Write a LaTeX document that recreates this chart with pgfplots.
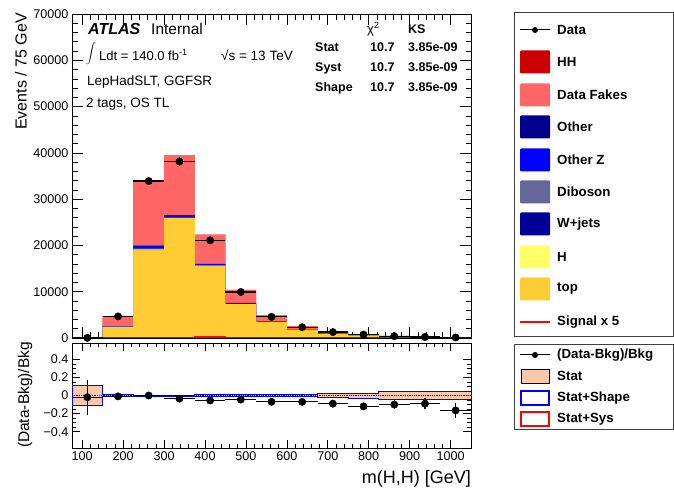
\documentclass[border=0pt]{standalone}
\usepackage{pgfplots}
\pgfplotsset{compat=1.18}
\usepackage{pgfplotstable}
\usepackage{fontspec}
\setmainfont{Liberation Sans}
\definecolor{ctop}{RGB}{255,204,51}
\definecolor{cH}{RGB}{255,255,102}
\definecolor{cW}{RGB}{0,0,153}
\definecolor{cVV}{RGB}{102,102,153}
\definecolor{cZ}{RGB}{0,0,255}
\definecolor{cO}{RGB}{0,0,140}
\definecolor{cF}{RGB}{255,102,102}
\definecolor{cHH}{RGB}{204,0,0}
\definecolor{cstat}{RGB}{250,200,170}
\definecolor{csig}{RGB}{255,0,0}
\definecolor{cblue}{RGB}{0,0,255}
\newcommand\fs[1]{\fontsize{#1}{#1}\selectfont}

\pgfplotstableread{
x    top    H   W   VV  Z    O   F     HH  sig
75   15     0   0   0   0    0   13    0   40
150  2400   10  20  10  80   10  2180  3   40
225  19100  30  150 60  550  60  13950 10  40
300  25900  40  120 50  400  50  12940 15  60
375  15600  25  80  30  250  30  6285  20  220
450  7300   12  40  15  180  20  2830  10  40
525  3500   6   20  8   80   10  1276  5   30
600  1700   3   10  5   45   7   730   3   30
675  900    2   6   3   25   4   460   2   20
750  500    1   4   2   15   3   300   1   20
825  250    1   2   1   8    2   178   1   20
900  130    0   1   1   5    1   100   1   20
975  70     0   1   0   3    0   60    0   20
1050 70     0   1   0   3    0   60    0   20
}\stack

\pgfplotstableread{
x      y      ex    ey
112.5  27     37.5  5
187.5  4670   37.5  68
262.5  33900  37.5  184
337.5  38130  37.5  195
412.5  21090  37.5  145
487.5  9940   37.5  100
562.5  4560   37.5  68
637.5  2330   37.5  48
712.5  1275   37.5  36
787.5  727    37.5  27
862.5  399    37.5  20
937.5  217    37.5  15
1012.5 112    37.5  11
}\data

\pgfplotstableread{
x      r       ex    ey
112.5  -0.02   37.5  0.19
187.5  -0.01   37.5  0.015
262.5  0.0     37.5  0.006
337.5  -0.035  37.5  0.005
412.5  -0.055  37.5  0.007
487.5  -0.045  37.5  0.01
562.5  -0.07   37.5  0.014
637.5  -0.07   37.5  0.02
712.5  -0.09   37.5  0.027
787.5  -0.12   37.5  0.035
862.5  -0.10   37.5  0.045
937.5  -0.09   37.5  0.06
1012.5 -0.165  37.5  0.08
}\ratio

\pgfplotstableread{
x     e
75    0.11
150   0.012
225   0.006
300   0.006
375   0.007
450   0.009
525   0.01
600   0.012
675   0.02
750   0.028
825   0.04
900   0.047
975   0.047
1050  0.047
}\band

\pgfplotsset{
  hist/.style={ybar interval, bar shift=0pt, draw=none, fill=#1},
  atlas/.style={
    scale only axis, tick align=inside,
    axis line style={line width=0.8pt},
    every tick/.style={black, line width=0.6pt},
    tick label style={font=\fs{12.6}},
    /pgf/number format/assume math mode=true,
    xmin=75, xmax=1050,
    xtick={100,200,...,1000}, minor x tick num=4,
  },
}

\begin{document}
\begin{tikzpicture}
\path[use as bounding box] (0pt,0pt) rectangle (674pt,487pt);

% ---------------- main panel
\begin{axis}[atlas,
  at={(72pt,149pt)}, anchor=south west,
  width=399pt, height=324pt,
  ymin=0, ymax=70000,
  ytick={0,10000,...,70000}, minor y tick num=4,
  xticklabels={},
  major tick length=11pt, minor tick length=5.5pt,
  scaled y ticks=false,
  yticklabel style={/pgf/number format/.cd, fixed, 1000 sep={}},
]
\addplot[hist=cHH] table[x=x, y expr=\thisrow{top}+\thisrow{H}+\thisrow{W}+\thisrow{VV}+\thisrow{Z}+\thisrow{O}+\thisrow{F}+\thisrow{HH}] {\stack};
\addplot[hist=cF] table[x=x, y expr=\thisrow{top}+\thisrow{H}+\thisrow{W}+\thisrow{VV}+\thisrow{Z}+\thisrow{O}+\thisrow{F}] {\stack};
\addplot[hist=cO] table[x=x, y expr=\thisrow{top}+\thisrow{H}+\thisrow{W}+\thisrow{VV}+\thisrow{Z}+\thisrow{O}] {\stack};
\addplot[hist=cZ] table[x=x, y expr=\thisrow{top}+\thisrow{H}+\thisrow{W}+\thisrow{VV}+\thisrow{Z}] {\stack};
\addplot[hist=cVV] table[x=x, y expr=\thisrow{top}+\thisrow{H}+\thisrow{W}+\thisrow{VV}] {\stack};
\addplot[hist=cW] table[x=x, y expr=\thisrow{top}+\thisrow{H}+\thisrow{W}] {\stack};
\addplot[hist=cH] table[x=x, y expr=\thisrow{top}+\thisrow{H}] {\stack};
\addplot[hist=ctop] table[x=x, y=top] {\stack};
\addplot[csig, line width=1.2pt, const plot mark left, mark=none] table[x=x, y=sig] {\stack};
\addplot[only marks, mark=*, mark size=3.7pt, black,
  error bars/.cd, x dir=both, x explicit, y dir=both, y explicit,
  error mark=none, error bar style={line width=1.2pt, black}]
  table[x=x, y=y, x error=ex, y error=ey] {\data};
\end{axis}

% ---------------- ratio panel
\begin{axis}[atlas,
  at={(72pt,39pt)}, anchor=south west,
  width=399pt, height=105pt,
  ymin=-0.58, ymax=0.58,
  ytick={-0.4,-0.2,0,0.2,0.4}, yticklabels={−0.4,−0.2,0,0.2,0.4},
  minor y tick num=3,
  major tick length=8pt, minor tick length=4pt,
  xticklabels={100,200,300,400,500,600,700,800,900,1000},
]
\addplot[hist=cstat] table[x=x, y=e] {\band};
\addplot[hist=cstat] table[x=x, y expr=-\thisrow{e}] {\band};
\addplot[cblue, line width=0.9pt, const plot mark left, mark=none] table[x=x, y=e] {\band};
\addplot[cblue, line width=0.9pt, const plot mark left, mark=none] table[x=x, y expr=-\thisrow{e}] {\band};
\addplot[cblue, line width=0.9pt, mark=none] coordinates {(75,-0.11) (75,0.11)};
\addplot[black, densely dotted, line width=0.8pt, mark=none] coordinates {(75,0) (1050,0)};
\addplot[only marks, mark=*, mark size=3.7pt, black,
  error bars/.cd, x dir=both, x explicit, y dir=both, y explicit,
  error mark=none, error bar style={line width=1.2pt, black}]
  table[x=x, y=r, x error=ex, y error=ey] {\ratio};
\end{axis}

% ---------------- axis titles
\node[rotate=90, anchor=east, inner sep=0pt, font=\fs{16}] at (21pt,474pt) {Events / 75 GeV};
\node[rotate=90, anchor=center, inner sep=0pt, font=\fs{15.5}] at (25pt,92pt) {(Data-Bkg)/Bkg};
\node[anchor=base east, inner sep=0pt, font=\fs{18}] at (471pt,4pt) {m(H,H) [GeV]};

% ---------------- ATLAS labels
\node[anchor=base west, inner sep=0pt, font=\fs{16}\bfseries\itshape] at (88pt,452.5pt) {ATLAS};
\node[anchor=base west, inner sep=0pt, font=\fs{15.5}] at (151pt,452.5pt) {Internal};
\node[anchor=base west, inner sep=0pt] at (86pt,426pt) {\raisebox{4.5pt}{\fs{10.5}$\displaystyle\int$}};
\node[anchor=base west, inner sep=0pt, font=\fs{13}] at (99pt,426pt) {Ldt = 140.0 fb\raisebox{5.5pt}{\fs{9}-1}};
\node[anchor=base west, inner sep=0pt, font=\fs{13.5}] at (221pt,426pt) {√s = 13 TeV};
\node[anchor=base west, inner sep=0pt, font=\fs{13.5}] at (87pt,401pt) {LepHadSLT, GGFSR};
\node[anchor=base west, inner sep=0pt, font=\fs{13.5}] at (86pt,379pt) {2 tags, OS TL};

% chi2 / KS table
\node[anchor=base west, inner sep=0pt, font=\fs{13}] at (367pt,453pt) {χ\raisebox{5pt}{\fs{9}2}};
\node[anchor=base west, inner sep=0pt, font=\fs{12.5}\bfseries] at (408pt,453pt) {KS};
\foreach \lab/\yy in {Stat/435, Syst/415, Shape/395}{
  \node[anchor=base west, inner sep=0pt, font=\fs{12.5}\bfseries] at (315pt,\yy pt) {\lab};
  \node[anchor=base west, inner sep=0pt, font=\fs{12.5}\bfseries] at (370pt,\yy pt) {10.7};
  \node[anchor=base west, inner sep=0pt, font=\fs{12.5}\bfseries] at (408pt,\yy pt) {3.85e-09};
}

% ---------------- legend 1
\draw[black!75, line width=0.7pt] (514pt,151pt) rectangle (673.6pt,475pt);
\draw[black, line width=1pt] (520pt,457pt) -- (550pt,457pt);
\fill[black] (535pt,457pt) circle (3pt);
\node[anchor=west, inner sep=0pt, font=\fs{13.3}\bfseries] at (557pt,457pt) {Data};
\foreach \col/\lab/\yy in {cHH/HH/425, cF/Data Fakes/392, cO/Other/360, cZ/Other Z/327, cVV/Diboson/295, cW/W+jets/263, cH/H/230, ctop/top/198}{
  \fill[\col, rounded corners=1pt] (520pt,\yy pt-11.5pt) rectangle (550pt,\yy pt+11.5pt);
  \node[anchor=west, inner sep=0pt, font=\fs{13.3}\bfseries] at (557pt,\yy pt) {\lab};
}
\draw[csig, line width=1.2pt] (520pt,165pt) -- (550pt,165pt);
\node[anchor=west, inner sep=0pt, font=\fs{13.3}\bfseries] at (557pt,165pt) {Signal x 5};

% ---------------- legend 2
\draw[black!75, line width=0.7pt] (514pt,58pt) rectangle (673.6pt,143pt);
\draw[black, line width=1pt] (520pt,132pt) -- (550pt,132pt);
\fill[black] (535pt,132pt) circle (3pt);
\node[anchor=west, inner sep=0pt, font=\fs{13.3}\bfseries] at (557pt,132pt) {(Data-Bkg)/Bkg};
\filldraw[fill=cstat, draw=black, line width=0.8pt] (521pt,104pt) rectangle (549pt,118pt);
\node[anchor=west, inner sep=0pt, font=\fs{13.3}\bfseries] at (557pt,111pt) {Stat};
\draw[draw=cblue, line width=1.1pt] (521pt,82pt) rectangle (549pt,96pt);
\node[anchor=west, inner sep=0pt, font=\fs{13.3}\bfseries] at (557pt,89pt) {Stat+Shape};
\draw[draw=csig, line width=1.1pt] (521pt,61pt) rectangle (549pt,75pt);
\node[anchor=west, inner sep=0pt, font=\fs{13.3}\bfseries] at (557pt,68pt) {Stat+Sys};
\end{tikzpicture}
\end{document}
